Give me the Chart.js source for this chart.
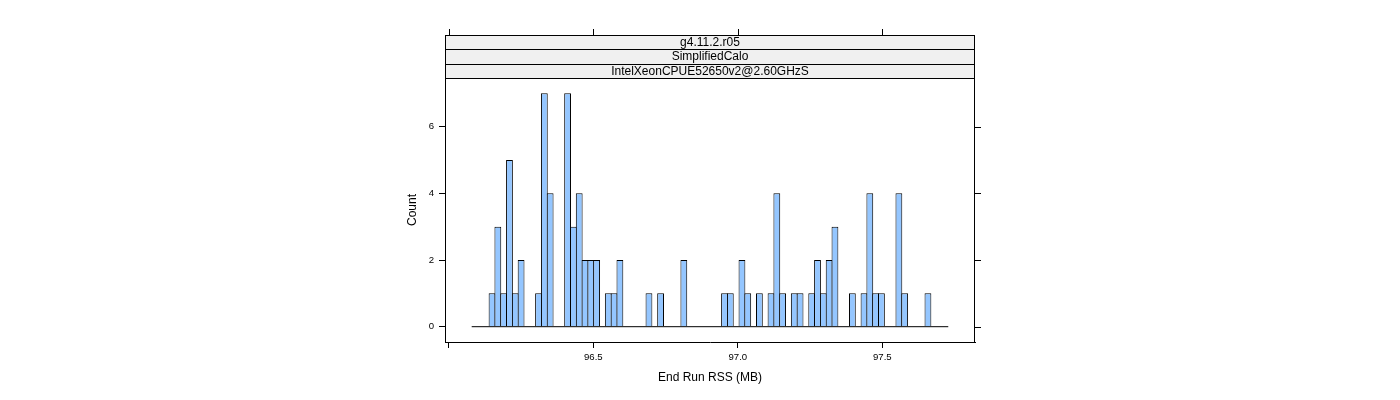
<!DOCTYPE html>
<html>
<head>
<meta charset="utf-8">
<script src="https://cdn.jsdelivr.net/npm/chart.js@4"></script>
<style>
  html, body { margin: 0; padding: 0; background: #fff; }
  #wrap { width: 1400px; height: 400px; position: relative; }
</style>
</head>
<body>
<div id="wrap"><canvas id="histCanvas"></canvas></div>
<script>
// histogram counts, one per bin (End Run RSS, MB)
const counts = [
  0, 0, 0, 1, 3, 1, 5, 1, 2, 0,
  0, 1, 7, 4, 0, 0, 7, 3, 4, 2,
  2, 2, 0, 1, 1, 2, 0, 0, 0, 0,
  1, 0, 1, 0, 0, 0, 2, 0, 0, 0,
  0, 0, 0, 1, 1, 0, 2, 1, 0, 1,
  0, 1, 4, 1, 0, 1, 1, 0, 1, 2,
  1, 2, 3, 0, 0, 1, 0, 1, 4, 1,
  1, 0, 0, 4, 1, 0, 0, 0, 1, 0,
  0, 0
];
const binStart = 96.0792;   // first break
const binWidth = 0.020111;  // break spacing
const xTickValues = [96.0, 96.5, 97.0, 97.5];
const xTickLabels = ['', '96.5', '97.0', '97.5'];
const yTickValues = [0, 2, 4, 6];
const stripLabels = ['g4.11.2.r05', 'SimplifiedCalo', 'IntelXeonCPUE52650v2@2.60GHzS'];

const FONT = '"Liberation Sans", Arial, Helvetica, sans-serif';

const barData = counts.map((c, i) => ({ x: binStart + binWidth * (i + 0.5), y: c }));
const baseData = [{ x: binStart, y: 0 }, { x: binStart + binWidth * counts.length, y: 0 }];

// strips on top, right/top frame, mirrored ticks
const latticeFrame = {
    id: 'latticeFrame',
    afterDraw(chart) {
        const { ctx, chartArea: a, scales: { x, y } } = chart;
        const stripH = 14.33;
        const stripTop = a.top - stripH * stripLabels.length;
        ctx.save();
        ctx.lineWidth = 1;
        ctx.strokeStyle = '#000';

        stripLabels.forEach((label, i) => {
            const y0 = Math.round(stripTop + i * stripH);
            const y1 = Math.round(stripTop + (i + 1) * stripH);
            ctx.fillStyle = '#f0f0f0';
            ctx.fillRect(a.left, y0, a.right - a.left, y1 - y0);
            ctx.strokeRect(a.left + 0.5, y0 + 0.5, a.right - a.left - 1, y1 - y0);
            ctx.fillStyle = '#000';
            ctx.font = '12px ' + FONT;
            ctx.textAlign = 'center';
            ctx.textBaseline = 'middle';
            ctx.fillText(label, (a.left + a.right) / 2, (y0 + y1) / 2 + 0.5);
        });

        // right border
        ctx.beginPath();
        ctx.moveTo(a.right - 0.5, Math.round(stripTop));
        ctx.lineTo(a.right - 0.5, a.bottom);
        ctx.stroke();

        // ticks above the strips
        const topY = Math.round(stripTop);
        xTickValues.forEach(v => {
            const px = Math.round(x.getPixelForValue(v)) + 0.5;
            ctx.beginPath();
            ctx.moveTo(px, topY);
            ctx.lineTo(px, topY - 6);
            ctx.stroke();
        });

        // ticks on the right side
        yTickValues.forEach(v => {
            const py = Math.round(y.getPixelForValue(v)) + 0.5;
            ctx.beginPath();
            ctx.moveTo(a.right, py);
            ctx.lineTo(a.right + 6, py);
            ctx.stroke();
        });
        ctx.restore();
    }
};

new Chart(document.getElementById('histCanvas'), {
    type: 'bar',
    data: {
        datasets: [
            {
                type: 'line',
                data: baseData,
                borderColor: '#000',
                borderWidth: 1,
                pointRadius: 0,
                order: 0
            },
            {
                type: 'bar',
                data: barData,
                backgroundColor: '#94c6ff',
                borderColor: '#000',
                borderWidth: 1,
                barPercentage: 1.17,
                categoryPercentage: 1,
                order: 1
            }
        ]
    },
    options: {
        responsive: true,
        maintainAspectRatio: false,
        animation: false,
        events: [],
        layout: { padding: { left: 400, right: 425, top: 78, bottom: 13 } },
        plugins: {
            legend: { display: false },
            tooltip: { enabled: false }
        },
        scales: {
            x: {
                type: 'linear',
                min: 95.98685,
                max: 97.82076,
                offset: false,
                afterBuildTicks: scale => { scale.ticks = xTickValues.map(v => ({ value: v })); },
                afterFit: scale => { scale.height = 45; },
                ticks: {
                    autoSkip: false,
                    maxRotation: 0,
                    padding: 4,
                    color: '#000',
                    font: { family: FONT, size: 9.6 },
                    callback: (value) => xTickLabels[xTickValues.indexOf(value)] ?? ''
                },
                grid: { drawOnChartArea: false, drawTicks: true, tickLength: 6, color: '#000', offset: false },
                border: { display: true, color: '#000' },
                title: {
                    display: true,
                    text: 'End Run RSS (MB)',
                    color: '#000',
                    font: { family: FONT, size: 12 },
                    padding: { top: 0, bottom: 2 }
                }
            },
            y: {
                min: -0.459,
                max: 7.461,
                afterBuildTicks: scale => { scale.ticks = yTickValues.map(v => ({ value: v })); },
                afterFit: scale => { scale.width = 45; },
                ticks: {
                    padding: 5,
                    color: '#000',
                    font: { family: FONT, size: 9.6 }
                },
                grid: { drawOnChartArea: false, drawTicks: true, tickLength: 6, color: '#000' },
                border: { display: true, color: '#000' },
                title: {
                    display: true,
                    text: 'Count',
                    color: '#000',
                    font: { family: FONT, size: 12 },
                    padding: { top: 5.5, bottom: 0 }
                }
            }
        }
    },
    plugins: [latticeFrame]
});
</script>
</body>
</html>
